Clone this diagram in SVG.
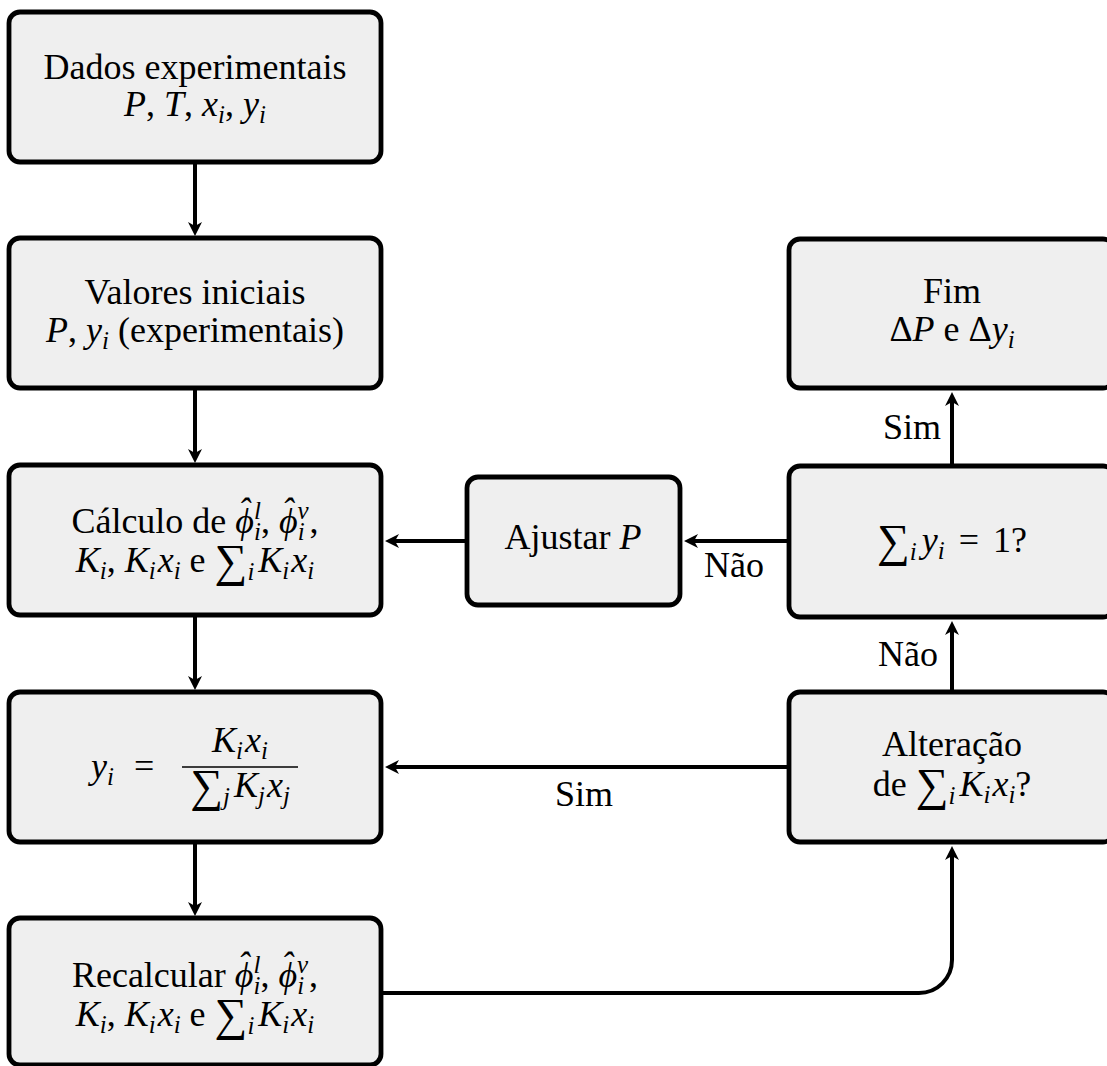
<svg xmlns="http://www.w3.org/2000/svg" width="1107" height="1066" viewBox="0 0 1107 1066">
<style>
.box{fill:#efefef;stroke:#000;stroke-width:4.8}
.t{font-family:"Liberation Serif",serif;font-size:36px;fill:#000;text-anchor:middle}
.l{font-family:"Liberation Serif",serif;font-size:36px;fill:#000}
.m{font-style:italic}
.s{font-style:italic;font-size:25px}
.g{font-size:46px}
.c{stroke:#000;stroke-width:4;fill:none}
</style>
<defs>
<marker id="ah" viewBox="-15 -8 16 16" refX="-7" refY="0" markerWidth="16" markerHeight="16" markerUnits="userSpaceOnUse" orient="auto">
<path d="M0,0 L-14,-7 L-10,0 L-14,7 Z" fill="#000"/>
</marker>
</defs>
<rect width="1107" height="1066" fill="#fff"/>
<g id="connectors">
<line class="c" x1="195" y1="164" x2="195" y2="229" marker-end="url(#ah)"/>
<line class="c" x1="195" y1="390" x2="195" y2="456" marker-end="url(#ah)"/>
<line class="c" x1="195" y1="617" x2="195" y2="683" marker-end="url(#ah)"/>
<line class="c" x1="195" y1="844" x2="195" y2="909" marker-end="url(#ah)"/>
<line class="c" x1="787" y1="541" x2="691" y2="541" marker-end="url(#ah)"/>
<line class="c" x1="465" y1="541" x2="392" y2="541" marker-end="url(#ah)"/>
<line class="c" x1="952" y1="464" x2="952" y2="399" marker-end="url(#ah)"/>
<line class="c" x1="952" y1="690" x2="952" y2="628" marker-end="url(#ah)"/>
<line class="c" x1="787" y1="767" x2="392" y2="767" marker-end="url(#ah)"/>
<path class="c" d="M383,993 H919 A33,33 0 0 0 952,960 V853" marker-end="url(#ah)"/>
<text class="l" x="704" y="577">Não</text>
<text class="l" x="883" y="439">Sim</text>
<text class="l" x="878" y="666">Não</text>
<text class="l" x="555" y="806">Sim</text>
</g>
<g id="n1">
<rect class="box" x="9" y="12" width="372" height="150" rx="11"/>
<text class="t" x="195" y="79">Dados experimentais</text>
<text class="t" x="195" y="116"><tspan class="m">P</tspan>, <tspan class="m">T</tspan>, <tspan class="m">x</tspan><tspan class="s" dy="7">i</tspan><tspan dy="-7">, </tspan><tspan class="m">y</tspan><tspan class="s" dy="7">i</tspan></text>
</g>
<g id="n2">
<rect class="box" x="9" y="238" width="372" height="150" rx="11"/>
<text class="t" x="195" y="304">Valores iniciais</text>
<text class="t" x="195" y="342"><tspan class="m">P</tspan>, <tspan class="m">y</tspan><tspan class="s" dy="7">i</tspan><tspan dy="-7"> (experimentais)</tspan></text>
</g>
<g id="n3">
<rect class="box" x="9" y="465" width="372" height="150" rx="11"/>
<text class="t" x="195" y="533">Cálculo de <tspan class="m">ϕ</tspan><tspan class="m" dx="-16" dy="-10">ˆ</tspan><tspan class="s" dx="4" dy="-4">l</tspan><tspan class="s" dx="-7" dy="21">i</tspan><tspan dy="-7">, </tspan><tspan class="m">ϕ</tspan><tspan class="m" dx="-16" dy="-10">ˆ</tspan><tspan class="s" dx="4" dy="-4">v</tspan><tspan class="s" dx="-11" dy="21">i</tspan><tspan dy="-7" dx="5">,</tspan></text>
<text class="t" x="195" y="572"><tspan class="m">K</tspan><tspan class="s" dy="7">i</tspan><tspan dy="-7">, </tspan><tspan class="m">K</tspan><tspan class="s" dy="7">i</tspan><tspan class="m" dy="-7" dx="2">x</tspan><tspan class="s" dy="7">i</tspan><tspan dy="-7"> e </tspan><tspan class="g" dy="4">∑</tspan><tspan class="s" dy="4">i</tspan><tspan class="m" dy="-8" dx="4">K</tspan><tspan class="s" dy="7">i</tspan><tspan class="m" dy="-7" dx="2">x</tspan><tspan class="s" dy="7">i</tspan></text>
</g>
<g id="n4">
<rect class="box" x="9" y="692" width="372" height="150" rx="11"/>
<text class="l" x="91" y="778"><tspan class="m">y</tspan><tspan class="s" dy="7">i</tspan></text>
<text class="l" x="134" y="778">=</text>
<line x1="182" y1="767" x2="298" y2="767" stroke="#000" stroke-width="1.6"/>
<text class="t" x="240" y="752"><tspan class="m">K</tspan><tspan class="s" dy="7">i</tspan><tspan class="m" dy="-7" dx="2">x</tspan><tspan class="s" dy="7">i</tspan></text>
<text class="t" x="240" y="797"><tspan class="g" dy="4">∑</tspan><tspan class="s" dy="4">j</tspan><tspan class="m" dy="-8" dx="4">K</tspan><tspan class="s" dy="7">j</tspan><tspan class="m" dy="-7" dx="2">x</tspan><tspan class="s" dy="7">j</tspan></text>
</g>
<g id="n5">
<rect class="box" x="9" y="918" width="372" height="147" rx="11"/>
<text class="t" x="195" y="987">Recalcular <tspan class="m">ϕ</tspan><tspan class="m" dx="-16" dy="-10">ˆ</tspan><tspan class="s" dx="4" dy="-4">l</tspan><tspan class="s" dx="-7" dy="21">i</tspan><tspan dy="-7">, </tspan><tspan class="m">ϕ</tspan><tspan class="m" dx="-16" dy="-10">ˆ</tspan><tspan class="s" dx="4" dy="-4">v</tspan><tspan class="s" dx="-11" dy="21">i</tspan><tspan dy="-7" dx="5">,</tspan></text>
<text class="t" x="195" y="1026"><tspan class="m">K</tspan><tspan class="s" dy="7">i</tspan><tspan dy="-7">, </tspan><tspan class="m">K</tspan><tspan class="s" dy="7">i</tspan><tspan class="m" dy="-7" dx="2">x</tspan><tspan class="s" dy="7">i</tspan><tspan dy="-7"> e </tspan><tspan class="g" dy="4">∑</tspan><tspan class="s" dy="4">i</tspan><tspan class="m" dy="-8" dx="4">K</tspan><tspan class="s" dy="7">i</tspan><tspan class="m" dy="-7" dx="2">x</tspan><tspan class="s" dy="7">i</tspan></text>
</g>
<g id="n6">
<rect class="box" x="467" y="477" width="213" height="128" rx="11"/>
<text class="t" x="573" y="549">Ajustar <tspan class="m">P</tspan></text>
</g>
<g id="n7">
<rect class="box" x="789" y="239" width="325" height="149" rx="11"/>
<text class="t" x="952" y="303">Fim</text>
<text class="t" x="952" y="341">Δ<tspan class="m">P</tspan> e Δ<tspan class="m">y</tspan><tspan class="s" dy="7">i</tspan></text>
</g>
<g id="n8">
<rect class="box" x="789" y="466" width="325" height="151" rx="11"/>
<text class="t" x="952" y="552"><tspan class="g" dy="4">∑</tspan><tspan class="s" dy="4">i</tspan><tspan class="m" dy="-8" dx="5">y</tspan><tspan class="s" dy="7">i</tspan><tspan dy="-7" dx="14">=</tspan><tspan dx="14">1?</tspan></text>
</g>
<g id="n9">
<rect class="box" x="789" y="692" width="325" height="150" rx="11"/>
<text class="t" x="952" y="756">Alteração</text>
<text class="t" x="952" y="796">de <tspan class="g" dy="4">∑</tspan><tspan class="s" dy="4">i</tspan><tspan class="m" dy="-8" dx="4">K</tspan><tspan class="s" dy="7">i</tspan><tspan class="m" dy="-7" dx="2">x</tspan><tspan class="s" dy="7">i</tspan><tspan dy="-7">?</tspan></text>
</g>
</svg>
